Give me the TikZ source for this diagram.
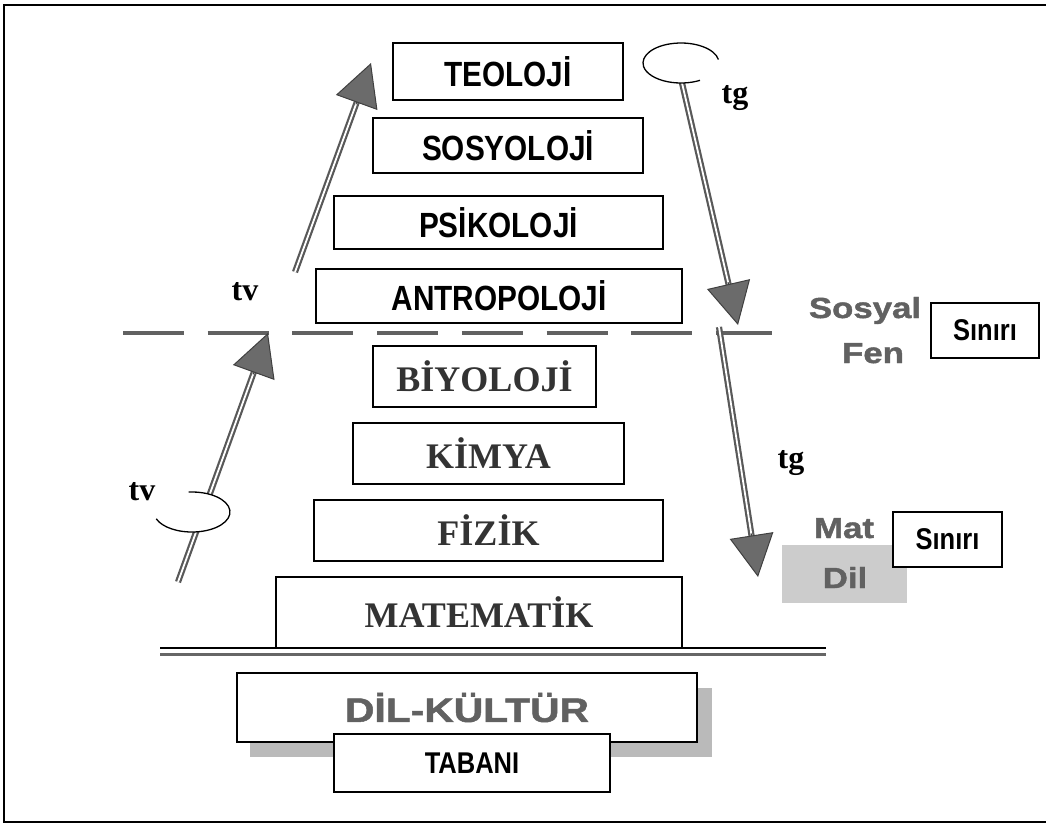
\documentclass[tikz,border=0pt]{standalone}
\usepackage{fontspec}
\setmainfont{Liberation Serif}
\newfontfamily\narrowsf[FakeStretch=0.85]{Liberation Sans}
\newfontfamily\blacksf[FakeStretch=1.2, FakeBold=1.5]{Liberation Sans}
\usetikzlibrary{arrows.meta,calc}

\tikzset{
	box/.style={draw, line width=1.5pt, fill=white, inner sep=0pt},
	sansbox/.style={box, font=\narrowsf\bfseries\fontsize{35}{35}\selectfont},
	serifbox/.style={box, font=\bfseries\fontsize{36}{36}\selectfont, text=black!80},
	sinirbox/.style={box, font=\narrowsf\bfseries\fontsize{30}{30}\selectfont, minimum width=108pt, minimum height=55pt},
	graytext/.style={anchor=base, font=\blacksf\bfseries\fontsize{29}{29}\selectfont, text=black!62},
	tlabel/.style={anchor=base, font=\bfseries\fontsize{32}{32}\selectfont},
	shaft/.style={draw=black!65, line width=2.2pt, double=white, double distance=1.8pt, shorten >=36pt},
	head/.style={-{Triangle[length=42pt, width=44pt, fill=black!58]}, draw=black!75, line width=1pt},
	dashline/.style={line width=4.5pt, black!62, dash pattern=on 61pt off 23.7pt},
	loop/.style={line width=1.3pt}
}

\begin{document}
\begin{tikzpicture}[x=1pt, y=-1pt]
			%%%%% START %%%%%
			\useasboundingbox (0,0) rectangle (1046,823);
			
			\draw[line width=1.8pt] (1046,5) -- (4,5) -- (4,822) -- (1046,822);
			
			% arrows
			\coordinate (tvUtail) at (295,272);
			\coordinate (tvUtip) at (371,63);
			\coordinate (tgUtail) at (679,70);
			\coordinate (tgUtip) at (738,325);
			\coordinate (tvLtail) at (178,582);
			\coordinate (tvLtip) at (268,333);
			\coordinate (tgLtail) at (719,327);
			\coordinate (tgLtip) at (758,577);
			\coordinate (tgLoop) at (681,63);
			\coordinate (tvLoop) at (192,512);
			
			% boundary lines
			\coordinate (dashL) at (123,333);
			\coordinate (dashR) at (772,333);
			\draw[dashline] (dashL) -- (dashR);
			
			\coordinate (baseL) at (160,648);
			\coordinate (baseR) at (826,648);
			\draw[line width=3pt, black!60] ($(baseL)+(0,6.5)$) -- ($(baseR)+(0,6.5)$);
			\draw[line width=1.5pt] (baseL) -- (baseR);
			
			\draw[shaft] (tvUtail) -- (tvUtip);
			\draw[head] ($(tvUtip)!44pt!(tvUtail)$) -- (tvUtip);
			\draw[shaft] (tgUtail) -- (tgUtip);
			\draw[head] ($(tgUtip)!44pt!(tgUtail)$) -- (tgUtip);
			\draw[shaft] (tvLtail) -- (tvLtip);
			\draw[head] ($(tvLtip)!44pt!(tvLtail)$) -- (tvLtip);
			\draw[shaft] (tgLtail) -- (tgLtip);
			\draw[head] ($(tgLtip)!44pt!(tgLtail)$) -- (tgLtip);
			
			% open loops
			\fill[white] (tgLoop) ellipse [x radius=38, y radius=20];
			\draw[loop] ($(tgLoop)+(-10:38 and 20)$) arc [start angle=-10, end angle=-300, x radius=38, y radius=20];
			\fill[white] (tvLoop) ellipse [x radius=38, y radius=20];
			\draw[loop] ($(tvLoop)+(-95:38 and 20)$) arc [start angle=-95, end angle=160, x radius=38, y radius=20];
			
			\node[tlabel] (tgU) at (735,103) {tg};
			\node[tlabel] (tvU) at (245,300) {tv};
			\node[tlabel] (tgL) at (791,468) {tg};
			\node[tlabel] (tvL) at (142,500) {tv};
			
			% social sciences
			\node[sansbox, minimum width=230pt, minimum height=57pt] (teoloji) at (508,71.5) {TEOLOJİ};
			\node[sansbox, minimum width=270pt, minimum height=55pt] (sosyoloji) at (508,145.5) {SOSYOLOJİ};
			\node[sansbox, minimum width=329pt, minimum height=53pt] (psikoloji) at (498.5,222.5) {PSİKOLOJİ};
			\node[sansbox, minimum width=366pt, minimum height=54pt] (antropoloji) at (499,296) {ANTROPOLOJİ};
			
			% natural sciences
			\node[serifbox, minimum width=223pt, minimum height=61pt] (biyoloji) at (484.5,376.5) {BİYOLOJİ};
			\node[serifbox, minimum width=271pt, minimum height=61pt] (kimya) at (488.5,453.5) {KİMYA};
			\node[serifbox, minimum width=349pt, minimum height=61pt] (fizik) at (488.5,530.5) {FİZİK};
			\node[serifbox, minimum width=406pt, minimum height=71pt] (matematik) at (479,612.5) {MATEMATİK};
			
			% base
			\fill[black!27] (250,688) rectangle (712,757);
			\node[box, minimum width=460pt, minimum height=69pt, font=\blacksf\bfseries\fontsize{34}{34}\selectfont, text=black!62] (dilkultur) at (467,707.5) {DİL-KÜLTÜR};
			\node[sansbox, font=\narrowsf\bfseries\fontsize{30}{30}\selectfont, minimum width=276pt, minimum height=58pt] (tabani) at (472,763) {TABANI};
			
			% limits
			\node[graytext] (sosyal) at (865,318) {Sosyal};
			\node[graytext] (fen) at (873,363) {Fen};
			\node[sinirbox] (sinirUst) at (985,330.5) {Sınırı};
			
			\fill[black!20] (782,545) rectangle (907,603);
			\node[graytext] (mat) at (844,538) {Mat};
			\node[graytext] (dil) at (845,588) {Dil};
			\node[sinirbox, minimum width=109pt] (sinirAlt) at (947.5,539.5) {Sınırı};
			
			%%%%% END %%%%%
\end{tikzpicture}
\end{document}
